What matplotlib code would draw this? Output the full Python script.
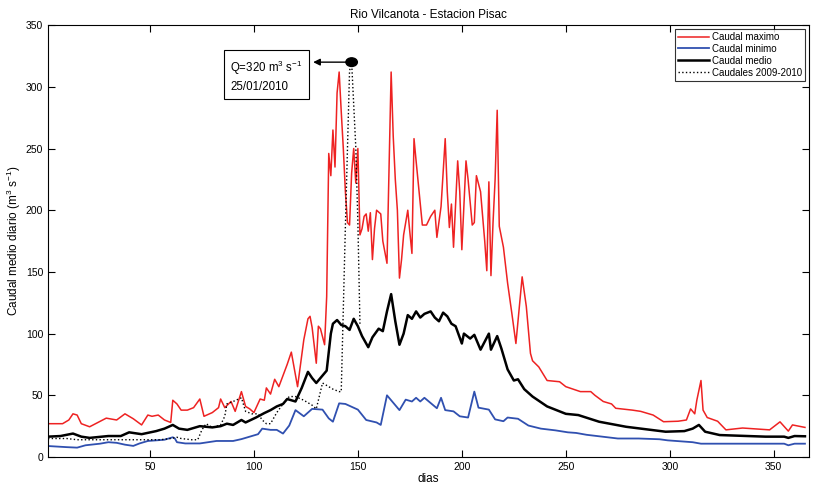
import matplotlib
matplotlib.use("Agg")
import matplotlib.pyplot as plt
from matplotlib.patches import Ellipse

plt.rcParams['font.family'] = ['Liberation Sans', 'DejaVu Sans']
plt.rcParams['mathtext.fontset'] = 'custom'
plt.rcParams['mathtext.rm'] = 'Liberation Sans'
plt.rcParams['mathtext.it'] = 'Liberation Sans'

# caudal maximo (day, value)
max_days = [1, 8, 11, 13, 15, 17, 21, 25, 29, 34, 38, 42, 46, 49, 51, 54, 57, 60, 61, 63,
            65, 68, 71, 74, 76, 80, 83, 84, 86, 89, 91, 94, 96, 98, 100, 103, 105, 106, 108, 110,
            112, 114, 116, 118, 121, 124, 126, 127, 128, 130, 131, 132, 134, 135, 136, 137, 138, 139, 140, 141,
            142, 143, 144, 145, 146, 147, 148, 149, 150, 151, 152, 153, 154, 155, 156, 157, 158, 159, 161, 162,
            164, 166, 167, 168, 169, 170, 171, 172, 174, 175, 176, 177, 178, 181, 183, 185, 187, 188, 190, 192,
            193, 194, 195, 196, 198, 199, 200, 202, 203, 205, 206, 207, 209, 211, 212, 213, 214, 215, 216, 217,
            218, 220, 222, 224, 226, 229, 231, 233, 234, 237, 241, 247, 250, 257, 262, 264, 268, 272, 274, 282,
            286, 292, 297, 304, 308, 310, 312, 313, 315, 316, 318, 323, 327, 335, 348, 353, 357, 359, 362, 365]
max_vals = [27, 27, 30, 35, 34, 27, 24.5, 28, 31.5, 30, 35, 31, 26, 34, 33, 34, 30, 28, 46, 43,
            38, 38, 40, 47, 33, 36, 40, 47, 40, 45, 37, 53, 41, 39, 36, 47, 46, 56, 51, 63,
            57, 66, 75, 85, 57, 95, 112, 114, 105, 76, 106, 104, 91, 130, 246, 228, 265, 235, 295, 312,
            280, 250, 215, 190, 188, 230, 250, 222, 250, 180, 185, 195, 197, 183, 198, 160, 185, 200, 197, 175,
            157, 312, 260, 225, 200, 145, 160, 180, 200, 182, 165, 258, 240, 188, 188, 195, 200, 178, 203, 258,
            215, 186, 205, 170, 240, 215, 168, 240, 225, 188, 190, 228, 215, 175, 151, 223, 147, 190, 225, 281,
            187, 170, 141, 117, 92, 146, 122, 84, 78, 73, 62, 61, 57, 53, 53, 50, 45, 43, 39.5, 38,
            37, 34, 28.6, 29, 30, 39, 35, 46, 62, 38, 32, 29, 22, 23.5, 22, 28.5, 21, 26, 25, 24]

# caudal minimo
min_days = [1, 10, 15, 19, 26, 30, 34, 38, 42, 45, 49, 57, 61, 62, 63, 67, 74, 82, 90, 94,
            97, 102, 104, 108, 111, 114, 117, 120, 124, 128, 133, 136, 138, 141, 144, 150, 154, 159, 161, 164,
            167, 170, 173, 176, 178, 180, 182, 188, 190, 192, 196, 199, 203, 206, 208, 213, 216, 220, 222, 227,
            232, 238, 245, 251, 255, 260, 275, 285, 295, 299, 311, 315, 355, 357, 360, 365]
min_vals = [8.9, 8, 7.6, 9.5, 10.8, 12, 11.5, 10, 9, 11, 13, 14, 16, 15, 12, 11, 11, 13, 13, 14.5,
            16, 18.5, 23, 22, 22, 19, 25.5, 38, 33, 39, 38.4, 31.3, 28.6, 43.5, 43, 38.4, 30, 28, 26, 50,
            44, 38, 46.5, 45, 48, 45, 48, 39.5, 48, 38, 37, 33, 32, 53, 40, 38.4, 30.5, 29, 32, 31,
            25.5, 23, 21.6, 20, 19.5, 18, 15, 15, 14.4, 13.5, 12, 10.8, 10.8, 9.5, 10.8, 10.8]

# caudal medio
mean_days = [1, 7, 13, 17, 21, 30, 36, 40, 42, 46, 53, 57, 61, 64, 68, 74, 80, 84, 87, 90,
             94, 96, 101, 105, 108, 111, 114, 116, 120, 123, 126, 128, 130, 133, 135, 136, 137, 138, 140, 142,
             144, 146, 148, 150, 152, 155, 157, 160, 162, 164, 166, 168, 170, 172, 174, 176, 178, 180, 182, 185,
             187, 189, 191, 193, 195, 197, 200, 201, 204, 206, 209, 213, 214, 217, 219, 222, 225, 227, 230, 234,
             241, 250, 256, 266, 279, 298, 307, 311, 314, 317, 324, 346, 355, 357, 360, 365]
mean_vals = [16.5, 17, 19, 16.5, 15.5, 17, 17, 20, 19.5, 18.5, 21, 23, 26, 23, 22, 25, 24, 25, 27, 26,
             30, 28, 32, 35.6, 38, 41, 43, 47, 45, 56, 69, 64, 60, 66, 70, 85, 100, 108, 111, 107,
             106, 103, 112, 106, 98, 89, 97, 104, 102, 118, 132, 110, 91, 100, 115, 112, 118, 113, 116, 118,
             113, 110, 117, 114, 108, 106, 92, 100, 96, 99, 87, 100, 87, 98, 88, 71, 62, 63, 55, 49,
             41, 35, 34, 28.6, 24.5, 20.5, 21, 23, 26, 20.5, 17.8, 16.5, 16.5, 15.5, 17, 16.8]

# caudales 2009-2010
y0910_days = [1, 10, 15, 25, 40, 55, 60, 63, 65, 70, 73, 75, 77, 80, 84, 86, 87, 90, 94, 96,
              99, 102, 104, 106, 108, 111, 114, 117, 120, 124, 128, 130, 131, 133, 135, 138, 141, 142, 144, 146,
              147, 149, 150, 151]
y0910_vals = [15, 15, 14, 14, 14, 14, 15, 16, 15, 14, 14, 22, 27, 24, 26, 33, 43, 45, 48, 37,
              35, 35, 30, 27, 27, 36, 43, 49, 49, 46, 42, 39, 46, 60, 58, 55, 53, 53, 187, 313,
              320, 251, 190, 108]

peak_day = 147
peak_q = 320
note = 'Q=320 m$^3$ s$^{-1}$\n25/01/2010'

fig = plt.figure(figsize=(8.14, 4.88), dpi=100)
ax = fig.add_axes([0.059, 0.0635, 0.935, 0.885])

ax.plot(max_days, max_vals, color='#ee2222', lw=1.1, label='Caudal maximo')
ax.plot(min_days, min_vals, color='#3050b0', lw=1.3, label='Caudal minimo')
ax.plot(mean_days, mean_vals, color='black', lw=1.8, label='Caudal medio')
ax.plot(y0910_days, y0910_vals, color='black', lw=1.0, ls=':', label='Caudales 2009-2010')

# peak marker (slightly flattened dot) + arrow to the note box
ax.add_patch(Ellipse((peak_day, peak_q), 5.5, 7, color='black', zorder=5))
ax.annotate('', xy=(128.5, peak_q), xytext=(peak_day, peak_q),
            arrowprops=dict(arrowstyle='-|>', color='black', lw=1.0, mutation_scale=10,
                            shrinkA=0, shrinkB=0))
ax.text(88.5, 323, note, fontsize=8.3, va='top', ha='left', linespacing=1.45,
        bbox=dict(boxstyle='square,pad=0.55', fc='white', ec='black', lw=0.8))

ax.set_xlim(1, 367)
ax.set_ylim(0, 350)
ax.set_xticks(range(50, 351, 50))
ax.set_yticks(range(0, 351, 50))
ax.tick_params(direction='in', top=True, right=True, labelsize=7.5, length=5)
for s in ax.spines.values():
    s.set_linewidth(0.8)

ax.set_title('Rio Vilcanota - Estacion Pisac', fontsize=8.5, pad=5)
ax.set_xlabel('dias', fontsize=8.5, labelpad=1)
ax.set_ylabel('Caudal medio diario (m$^3$ s$^{-1}$)', fontsize=8.5, labelpad=2)

leg = ax.legend(loc='upper right', fontsize=7, frameon=True, fancybox=False,
                edgecolor='black', borderaxespad=0.4, handlelength=3.2, labelspacing=0.2,
                borderpad=0.3, handletextpad=0.3)
leg.get_frame().set_linewidth(0.8)

fig.savefig('out.png', dpi=100)
